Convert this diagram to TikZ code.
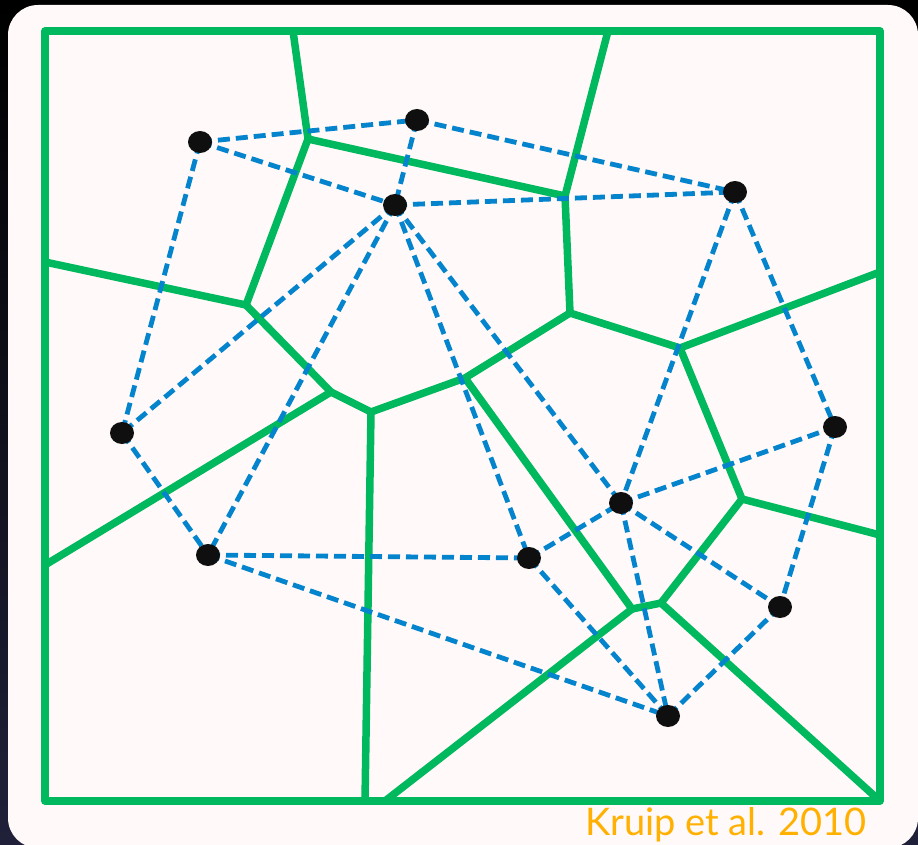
\documentclass[tikz,border=0pt]{standalone}
\usepackage{fontspec}
\setmainfont{Lato}
\usetikzlibrary{shapes.geometric}
\definecolor{voro}{RGB}{0,184,94}
\definecolor{dela}{RGB}{4,132,204}
\definecolor{panel}{RGB}{255,249,249}
\definecolor{citecol}{RGB}{255,176,0}
\definecolor{bgbot}{RGB}{32,32,58}

\begin{document}
\begin{tikzpicture}[x=1pt,y=-1pt,
  site/.style={ellipse,fill=black!94,minimum width=24pt,minimum height=22pt,inner sep=0pt},
  vor/.style={draw=voro,line width=7.5pt,line join=round},
  del/.style={draw=dela,line width=4.8pt,dash pattern=on 12pt off 6pt},
  lab/.style={font=\fontsize{38}{38}\selectfont,text=citecol,inner sep=0pt}]
% ---------- Backdrop and panel ----------
\useasboundingbox (0,0) rectangle (918,845);
\shade[top color=black,bottom color=bgbot] (0,0) rectangle (918,845);
\fill[panel,rounded corners=30pt] (8,5) rectangle (918,848);
% ---------- Voronoi vertices and border ends ----------
\coordinate (boxnw) at (45,31);
\coordinate (boxse) at (880,801);
\coordinate (vtl) at (308,139);
\coordinate (vtr) at (565,196);
\coordinate (vl) at (246,305);
\coordinate (vcl) at (331,392);
\coordinate (vc) at (371,412);
\coordinate (vcm) at (465,378);
\coordinate (vcr) at (570,313);
\coordinate (vr) at (680,348);
\coordinate (vrr) at (742,499);
\coordinate (vbr) at (661,603);
\coordinate (vbl) at (632,609);
\coordinate (btop1) at (293,31);
\coordinate (btop2) at (608,31);
\coordinate (bleft1) at (45,262);
\coordinate (bleft2) at (45,565);
\coordinate (bright1) at (880,272);
\coordinate (bright2) at (880,535);
\coordinate (bbot1) at (365,801);
\coordinate (bbot2) at (385,801);
\coordinate (bcorner) at (880,801);
% ---------- Voronoi cells ----------
\draw[vor] (boxnw) rectangle (boxse);
\draw[vor] (btop1) -- (vtl) -- (vtr) -- (btop2);
\draw[vor] (vtl) -- (vl) -- (bleft1);
\draw[vor] (vl) -- (vcl) -- (bleft2);
\draw[vor] (vcl) -- (vc) -- (bbot1);
\draw[vor] (vc) -- (vcm) -- (vcr) -- (vtr);
\draw[vor] (vcr) -- (vr) -- (bright1);
\draw[vor] (vr) -- (vrr) -- (bright2);
\draw[vor] (vrr) -- (vbr) -- (vbl) -- (vcm);
\draw[vor] (vbl) -- (bbot2);
\draw[vor] (vbr) -- (bcorner);
% ---------- Sites ----------
\coordinate (ptl) at (200,142);
\coordinate (ptop) at (417,120);
\coordinate (pcen) at (395,205);
\coordinate (ptr) at (735,192);
\coordinate (pleft) at (122,433);
\coordinate (pright) at (835,427);
\coordinate (pbl) at (208,555);
\coordinate (pmid) at (529,558);
\coordinate (pcr) at (621,503);
\coordinate (pbr) at (780,607);
\coordinate (pbot) at (668,716);
% ---------- Delaunay triangulation ----------
\draw[del] (ptl) -- (ptop);
\draw[del] (ptl) -- (pcen);
\draw[del] (ptl) -- (pleft);
\draw[del] (ptop) -- (pcen);
\draw[del] (ptop) -- (ptr);
\draw[del] (pcen) -- (ptr);
\draw[del] (pcen) -- (pleft);
\draw[del] (pcen) -- (pbl);
\draw[del] (pcen) -- (pmid);
\draw[del] (pcen) -- (pcr);
\draw[del] (ptr) -- (pcr);
\draw[del] (ptr) -- (pright);
\draw[del] (pleft) -- (pbl);
\draw[del] (pbl) -- (pmid);
\draw[del] (pbl) -- (pbot);
\draw[del] (pmid) -- (pcr);
\draw[del] (pmid) -- (pbot);
\draw[del] (pcr) -- (pbot);
\draw[del] (pcr) -- (pright);
\draw[del] (pcr) -- (pbr);
\draw[del] (pright) -- (pbr);
\draw[del] (pbr) -- (pbot);
\foreach \p in {ptl,ptop,pcen,ptr,pleft,pright,pbl,pmid,pcr,pbr,pbot}
  \node[site] (dot-\p) at (\p) {};
% ---------- Citation ----------
\node[lab,anchor=base east] (cite) at (867,835) {Kruip et al. 2010};
\end{tikzpicture}
\end{document}
